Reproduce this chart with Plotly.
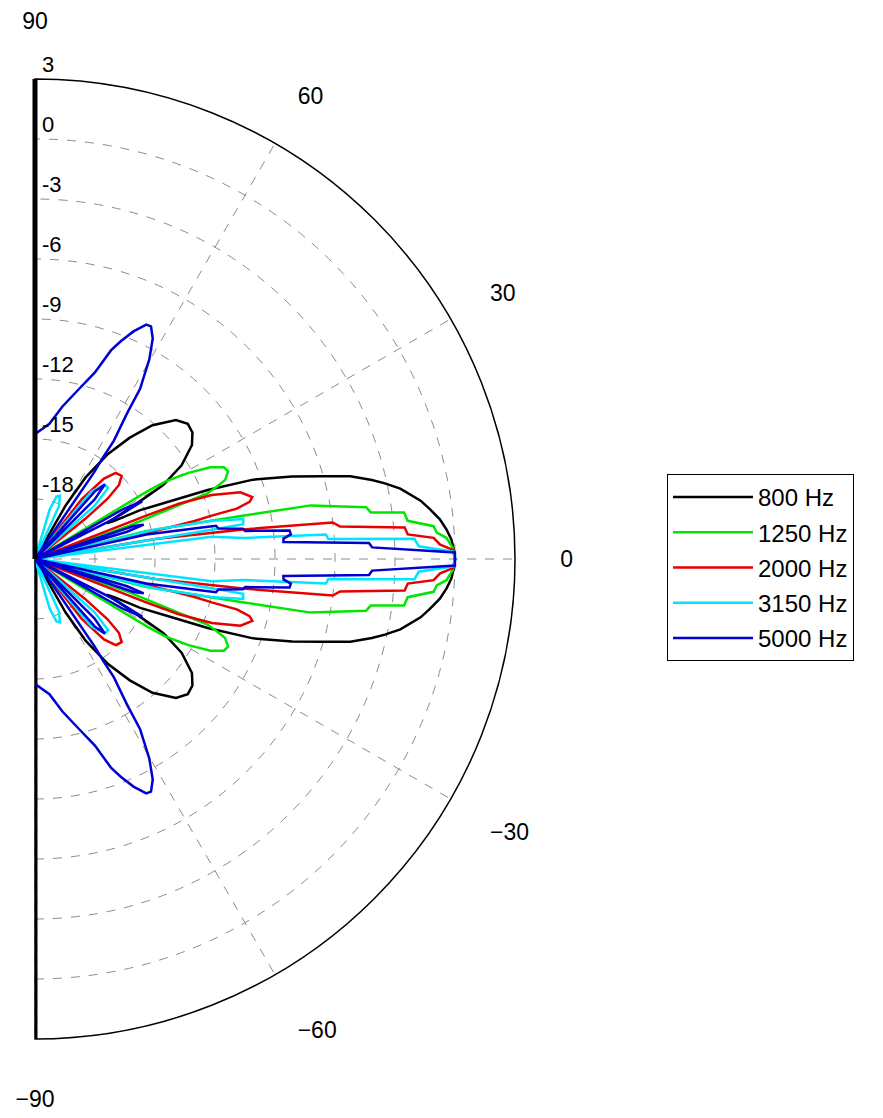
import plotly.graph_objects as go

# ---- data (upper half, theta in degrees 0..90, level in dB); pattern is symmetric ----
labels = ["800 Hz", "1250 Hz", "2000 Hz", "3150 Hz", "5000 Hz"]
colors = ["#000000", "#00E600", "#E60000", "#00E5FF", "#0000D2"]

theta_800 = [0, 1, 2.7, 4.1, 5.6, 7.2, 8.6, 10.9, 12.2, 13.2, 14.7, 16, 17.8, 20, 21.8, 23.2, 24.9,
             25.7, 26.5, 28, 29, 30, 32.6, 36, 38.8, 41.5, 44.6, 48.7, 52, 55.2, 58.2, 60.2, 61.5, 90]
db_800 = [0, -0.03, -0.16, -0.37, -0.66, -1.1, -1.5, -2.4, -3.1, -3.7, -4.7, -6.0, -7.5, -9.4, -11.7,
          -13.7, -15.2, -16.6, -17.0, -15.8, -14.8, -13.6, -12.3, -11.3, -10.9, -10.8, -11.1, -12.1,
          -13.3, -14.6, -16.2, -17.9, -21, -21]

theta_1250 = [0, 1.5, 2.95, 3.75, 4.7, 5.85, 7.2, 7.9, 8.9, 11, 11.75, 12.8, 14.1, 16, 19.5, 20.7,
              20.8, 21.7, 22.6, 24.4, 25.9, 27.6, 29.3, 30.7, 31.1, 32.5, 90]
db_1250 = [0, -0.1, -0.4, -0.87, -1.0, -2.27, -2.4, -4.05, -4.25, -6.95, -10.4, -13.2, -15.3, -21,
           -16, -12.5, -11.8, -11.2, -10.7, -10.4, -10.5, -11.1, -12.2, -13.4, -14.5, -21, -21]

theta_2000 = [0, 1.26, 2.03, 3.04, 3.77, 4.86, 6.07, 7.0, 8.1, 8.35, 9.45, 11, 13.2, 13.4, 13.8, 14.0,
              14.9, 15.9, 18, 19.9, 21, 21.3, 22.5, 38.3, 38.6, 39.7, 41.4, 43.8, 46.8, 49.4, 52,
              53.5, 90]
db_2000 = [0, -0.1, -0.73, -1.04, -2.32, -2.45, -5.66, -6.0, -10.5, -12.0, -14.9, -21, -14, -12.8,
           -11.9, -10.6, -9.9, -9.7, -10.2, -11.6, -13.3, -15, -21, -21, -17.8, -16.3, -15.4, -15.0,
           -15.1, -15.7, -17.2, -21, -21]

theta_3150 = [0, 1.0, 1.9, 3.04, 3.9, 4.83, 5.75, 7.2, 8.3, 9.4, 9.5, 10.85, 12.2, 13.8, 15, 40.5,
              41.8, 44.2, 46.8, 50, 53, 62, 65.6, 68.5, 71, 73.5, 77, 90]
db_3150 = [0, -0.1, -1.8, -2.0, -6.3, -6.4, -10.5, -12.1, -21, -11.9, -10.45, -10.4, -12.0, -14.8,
           -21, -21, -17.0, -15.9, -15.9, -16.6, -21, -21, -18.1, -17.6, -17.7, -18.4, -21, -21]

theta_5000 = [0, 0.9, 1.97, 2.75, 3.9, 4.7, 5.5, 6.4, 7.6, 8.3, 9.4, 10.4, 10.7, 12.4, 13.5, 15.5,
              16.5, 17.5, 18.5, 19.5, 25.5, 27, 28.3, 29.5, 31, 43, 45, 46.8, 48.5, 50, 55.3, 55.7,
              56.2, 56.3, 57.7, 58.3, 60.2, 61.9, 63.5, 64.6, 66.6, 68.5, 70, 72.2, 75.6, 79.8,
              83.9, 89.3, 90]
db_5000 = [0, 0, -4.13, -4.28, -8.55, -8.53, -8.15, -8.19, -10.4, -10.5, -11.7, -11.8, -12.5, -15.3,
           -21, -21, -16.2, -15.3, -15.8, -21, -21, -16.5, -14.9, -15.9, -21, -21, -16.8, -15.9,
           -16.5, -21, -21, -15.7, -14.9, -13.9, -12.4, -11.0, -9.5, -8.5, -8.0, -8.03, -8.6, -9.3,
           -9.9, -11.2, -12.25, -13.25, -14.2, -14.7, -14.7]

series_theta = [theta_800, theta_1250, theta_2000, theta_3150, theta_5000]
series_db = [db_800, db_1250, db_2000, db_3150, db_5000]

r_ticks = [3, 0, -3, -6, -9, -12, -15, -18]
r_ticktext = ["3", "0", "-3", "-6", "-9", "-12", "-15", "-18"]
a_ticks = [-90, -60, -30, 0, 30, 60, 90]
a_ticktext = ["\u221290", "\u221260", "\u221230", "0", "30", "60", "90"]
R_MIN, R_MAX = -21, 3


def mirror(th, r):
    return ([-t for t in reversed(th)] + th[1:], list(reversed(r)) + r[1:])


fig = go.Figure()

# lower part of the thick sector edge (upper part is the radial axis line)
fig.add_trace(go.Scatterpolar(r=[R_MAX, R_MIN], theta=[-90, -90], mode="lines",
                              line=dict(color="black", width=5), showlegend=False,
                              hoverinfo="skip"))

for i, (name, col) in enumerate(zip(labels, colors)):
    th, rr = mirror(series_theta[i], series_db[i])
    fig.add_trace(go.Scatterpolar(r=rr, theta=th, mode="lines", name=name,
                                  line=dict(color=col, width=2.5),
                                  legendgroup=name))

W, H = 883, 1118
cx, cy, R = 27, 551, 480   # compensates Plotly's ~8 px internal offset
# labels sit just above their rings in the reference: an empty second line lifts them
r_labels = [t + "<br>\u00a0" for t in r_ticktext]
fig.update_layout(
    width=W, height=H,
    margin=dict(l=0, r=0, t=0, b=0),
    paper_bgcolor="white",
    font=dict(family="Liberation Sans, Arial, sans-serif", size=22, color="black"),
    polar=dict(
        domain=dict(x=[cx / W, (cx + R) / W], y=[(H - cy - R) / H, (H - cy + R) / H]),
        sector=[-90, 90],
        bgcolor="white",
        radialaxis=dict(range=[R_MIN, R_MAX], tickvals=r_ticks, ticktext=r_labels,
                        angle=90, tickangle=90, showline=True, linecolor="black", linewidth=5,
                        gridcolor="#8c8c8c", griddash="dash", gridwidth=1, ticks="",
                        tickfont=dict(size=22)),
        angularaxis=dict(tickvals=a_ticks, ticktext=a_ticktext, direction="counterclockwise",
                         rotation=0, showline=True, linecolor="black", linewidth=1.5,
                         gridcolor="#8c8c8c", griddash="dash", gridwidth=1,
                         ticks="outside", ticklen=40, tickcolor="rgba(0,0,0,0)",
                         tickfont=dict(size=23)),
    ),
    legend=dict(x=659 / W, y=1 - 466 / H, xanchor="left", yanchor="top",
                bordercolor="black", borderwidth=1, bgcolor="white",
                font=dict(size=24), traceorder="grouped", tracegroupgap=1,
                itemwidth=80, entrywidth=130, entrywidthmode="pixels"),
    showlegend=True,
)

fig.write_html("out.html")
